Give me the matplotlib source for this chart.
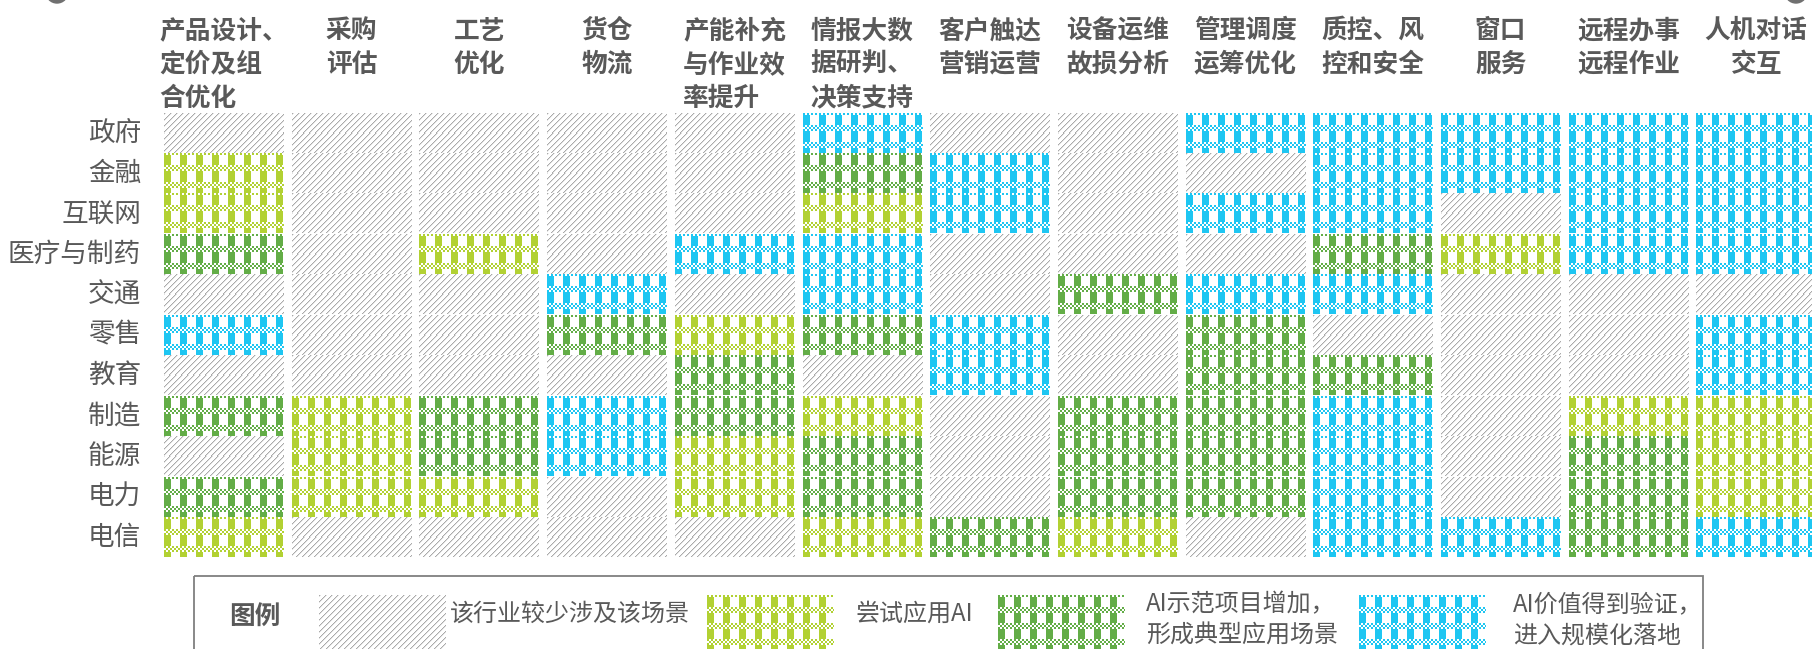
import numpy as np
import matplotlib
matplotlib.use('Agg')
import matplotlib.pyplot as plt
from matplotlib.patches import Rectangle, Circle

plt.rcParams['font.family'] = ['Noto Sans CJK SC', 'DejaVu Sans']

# ---------------- data ----------------
industries = ['政府', '金融', '互联网', '医疗与制药', '交通', '零售', '教育', '制造', '能源', '电力', '电信']
scenarios = ['产品设计、\n定价及组\n合优化', '采购\n评估', '工艺\n优化', '货仓\n物流',
             '产能补充\n与作业效\n率提升', '情报大数\n据研判、\n决策支持', '客户触达\n营销运营',
             '设备运维\n故损分析', '管理调度\n运筹优化', '质控、风\n控和安全', '窗口\n服务',
             '远程办事\n远程作业', '人机对话\n交互']
# 0 = 较少涉及, 1 = 尝试应用AI, 2 = AI示范项目增加, 3 = 规模化落地
gov        = [0, 0, 0, 0, 0, 3, 0, 0, 3, 3, 3, 3, 3]
finance    = [1, 0, 0, 0, 0, 2, 3, 0, 0, 3, 3, 3, 3]
internet   = [1, 0, 0, 0, 0, 1, 3, 0, 3, 3, 0, 3, 3]
medical    = [2, 0, 1, 0, 3, 3, 0, 0, 0, 2, 1, 3, 3]
transport  = [0, 0, 0, 3, 0, 3, 0, 2, 3, 3, 0, 0, 0]
retail     = [3, 0, 0, 2, 1, 2, 3, 0, 2, 0, 0, 0, 3]
education  = [0, 0, 0, 0, 2, 0, 3, 0, 2, 2, 0, 0, 3]
manufact   = [2, 1, 2, 3, 2, 1, 0, 2, 2, 3, 0, 1, 1]
energy     = [0, 1, 2, 3, 1, 2, 0, 2, 2, 3, 0, 2, 1]
power      = [2, 1, 1, 0, 1, 2, 0, 2, 2, 3, 0, 2, 1]
telecom    = [1, 0, 0, 0, 0, 1, 2, 1, 0, 3, 3, 2, 3]
levels = [gov, finance, internet, medical, transport, retail, education,
          manufact, energy, power, telecom]
legend_labels = ['该行业较少涉及该场景', '尝试应用AI',
                 'AI示范项目增加，\n形成典型应用场景', 'AI价值得到验证，\n进入规模化落地']

# ---------------- style ----------------
W, H = 1812, 649
TXT = '#595959'
level_colors = {0: (0.67, 0.67, 0.67), 1: (0.70, 0.82, 0.20),
                2: (0.39, 0.68, 0.28), 3: (0.12, 0.78, 0.95)}


def pattern(level, h, w):
    yy, xx = np.mgrid[0:h, 0:w]
    img = np.ones((h, w, 3))
    if level == 0:
        k = (xx + yy) % 6
        img[k == 0] = level_colors[0]
        img[k == 1] = (0.89, 0.89, 0.89)
        return img
    r = (yy + 4) % 16
    band = r < 6
    checker = ((xx // 2 + yy // 2) % 2 == 0)
    bars = (xx % 16) < 7
    mask = np.where(band, checker, bars)
    img[mask] = level_colors[level]
    return img


fig = plt.figure(figsize=(W / 100, H / 100), dpi=100)

# main grid axes (pixel geometry)
x0_px, pitch_x = 164.0, 127.7
y0_px, pitch_y = 113.3, 40.45
ncol, nrow = len(scenarios), len(industries)
ax = fig.add_axes([x0_px / W, 1 - (y0_px + nrow * pitch_y) / H,
                   ncol * pitch_x / W, nrow * pitch_y / H])
cw_px, ch_px = 119.5, 39.2
cw, ch = cw_px / pitch_x, ch_px / pitch_y

for i, row in enumerate(levels):
    for j, lv in enumerate(row):
        ax.imshow(pattern(lv, int(round(ch_px)), int(round(cw_px))),
                  extent=(j, j + cw, i + ch, i), aspect='auto',
                  interpolation='nearest')

ax.set_xlim(0, ncol)
ax.set_ylim(nrow, 0)
ax.axis('off')

# column headers
for j, s in enumerate(scenarios):
    ma = 'center' if j == ncol - 1 else 'left'
    ax.text(j + cw / 2, -(y0_px - 17) / pitch_y, s, ha='center', va='top',
            multialignment=ma, fontsize=18.5, fontweight='bold', color=TXT,
            linespacing=1.32, clip_on=False)

# row labels
for i, name in enumerate(industries):
    ax.text(-(x0_px - 141) / pitch_x, i + ch / 2, name, ha='right', va='center',
            fontsize=19.2, color=TXT, clip_on=False)

# ---------------- legend (pixel coordinates) ----------------
lax = fig.add_axes([0, 0, 1, 1])
lax.set_xlim(0, W)
lax.set_ylim(H, 0)
lax.axis('off')
lax.add_patch(Rectangle((194, 576), 1703 - 194, 120, fill=False,
                        edgecolor='#7f7f7f', linewidth=1.3))
lax.text(255, 617, '图例', ha='center', va='center', fontsize=18.5,
         fontweight='bold', color=TXT)
sw_x = [319, 707, 998, 1359]
tx_x = [450, 855, 1146, 1513]
for k in range(4):
    lax.imshow(pattern(k, 56, 127), extent=(sw_x[k], sw_x[k] + 127, 595 + 56, 595),
               aspect='auto', interpolation='nearest')
    lax.text(tx_x[k], 620 if '\n' in legend_labels[k] else 614, legend_labels[k],
             ha='left', va='center', fontsize=17.3, color=TXT, linespacing=1.25)

# decorative dots at top corners
lax.add_patch(Circle((57, -8), 11, color='#707070'))
lax.add_patch(Circle((1796, -8), 11, color='#707070'))
lax.set_xlim(0, W)
lax.set_ylim(H, 0)

fig.savefig('out.png', dpi=100)
